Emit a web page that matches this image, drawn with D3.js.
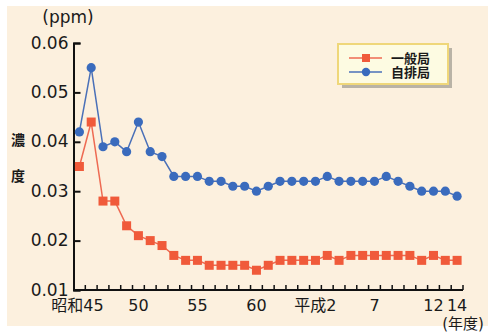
<!DOCTYPE html>
<html>
<head>
<meta charset="utf-8">
<script src="https://cdn.jsdelivr.net/npm/d3@7"></script>
<style>
  html, body { margin: 0; padding: 0; background: #ffffff; }
  svg { display: block; }
  text { font-family: "DejaVu Sans", "Noto Sans CJK JP", sans-serif; fill: #1a1a1a; }
</style>
</head>
<body>
<svg id="chart" width="488" height="334"></svg>
<script>
// Fiscal years: 昭和45 (1970) … 昭和63, 平成1 … 平成14
const years = [
  "S45","S46","S47","S48","S49","S50","S51","S52","S53","S54",
  "S55","S56","S57","S58","S59","S60","S61","S62","S63",
  "H1","H2","H3","H4","H5","H6","H7","H8","H9","H10","H11","H12","H13","H14"
];

// Annual mean concentration (ppm)
const ippan = [
  0.035,0.044,0.028,0.028,0.023,0.021,0.020,0.019,0.017,0.016,
  0.016,0.015,0.015,0.015,0.015,0.014,0.015,0.016,0.016,
  0.016,0.016,0.017,0.016,0.017,0.017,0.017,0.017,0.017,0.017,0.016,0.017,0.016,0.016
];
const jihai = [
  0.042,0.055,0.039,0.040,0.038,0.044,0.038,0.037,0.033,0.033,
  0.033,0.032,0.032,0.031,0.031,0.030,0.031,0.032,0.032,
  0.032,0.032,0.033,0.032,0.032,0.032,0.032,0.033,0.032,0.031,0.030,0.030,0.030,0.029
];

const yTicks = [0.01, 0.02, 0.03, 0.04, 0.05, 0.06];
const xTickLabels = { "S45": "昭和45", "S50": "50", "S55": "55", "S60": "60",
                      "H2": "平成2", "H7": "7", "H12": "12", "H14": "14" };

const seriesNames = ["一般局", "自排局"];
const colors = { line: ["#ee6a52", "#4a70b8"], mark: ["#f05a3a", "#3a6bbd"] };

const svg = d3.select("#chart");

// cream panel
svg.append("rect").attr("x", 7).attr("y", 6).attr("width", 481).attr("height", 320)
  .attr("fill", "#fcf0de");

const x = d3.scaleBand().domain(years).range([73.5, 463]);
const y = d3.scaleLinear().domain([0.01, 0.06]).range([290, 43]);

const g = svg.append("g");

// y axis: inward ticks, labels on the left
const yAxis = d3.axisLeft(y).tickValues(yTicks).tickSize(-7).tickPadding(14)
  .tickFormat(d3.format(".2f"));
const yg = g.append("g").attr("transform", "translate(73.5,0)").call(yAxis);
yg.select(".domain").attr("stroke", "#111").attr("stroke-width", 2);
yg.selectAll(".tick line").attr("stroke", "#111").attr("stroke-width", 2)
  .attr("x1", 0).attr("x2", 7);
yg.selectAll(".tick text").attr("font-size", 17).attr("fill", "#1a1a1a")
  .attr("x", -5).attr("dy", "0.3em");

// x axis: small upward ticks at band edges
const xg = g.append("g").attr("transform", "translate(0,290)");
xg.append("line").attr("x1", 73.5).attr("x2", 463).attr("stroke", "#111").attr("stroke-width", 2);
xg.selectAll("line.tk").data(years).join("line").attr("class", "tk")
  .attr("x1", d => x(d) + x.bandwidth()).attr("x2", d => x(d) + x.bandwidth())
  .attr("y1", 0).attr("y2", -5).attr("stroke", "#111").attr("stroke-width", 1.5);
xg.selectAll("text").data(years.filter(d => xTickLabels[d])).join("text")
  .attr("x", d => x(d) + x.bandwidth() / 2 - (d === "S45" ? 2 : 0))
  .attr("y", 21).attr("text-anchor", "middle").attr("font-size", 16)
  .text(d => xTickLabels[d]);

// axis titles
svg.append("text").attr("x", 68).attr("y", 23).attr("text-anchor", "middle")
  .attr("font-size", 17).text("(ppm)");
svg.append("text").attr("x", 18).attr("y", 145).attr("text-anchor", "middle")
  .attr("font-size", 14).attr("font-weight", "bold").text("濃");
svg.append("text").attr("x", 18).attr("y", 181).attr("text-anchor", "middle")
  .attr("font-size", 14).attr("font-weight", "bold").text("度");
svg.append("text").attr("x", 463).attr("y", 329).attr("text-anchor", "middle")
  .attr("font-size", 15).text("(年度)");

// series
const cx = d => x(d) + x.bandwidth() / 2;
const data = [ippan, jihai];
data.forEach((vals, s) => {
  const pts = years.map((yr, i) => [cx(yr), y(vals[i])]);
  g.append("path").attr("d", d3.line()(pts)).attr("fill", "none")
    .attr("stroke", colors.line[s]).attr("stroke-width", 1.5);
  if (s === 0) {
    g.selectAll("rect.m0").data(pts).join("rect").attr("class", "m0")
      .attr("x", p => p[0] - 4.5).attr("y", p => p[1] - 4.5)
      .attr("width", 9).attr("height", 9).attr("fill", colors.mark[0]);
  } else {
    g.selectAll("circle.m1").data(pts).join("circle").attr("class", "m1")
      .attr("cx", p => p[0]).attr("cy", p => p[1]).attr("r", 4.6)
      .attr("fill", colors.mark[1]);
  }
});

// legend
const lg = svg.append("g").attr("transform", "translate(338,44)");
lg.append("rect").attr("x", 4).attr("y", 4).attr("width", 110).attr("height", 40)
  .attr("fill", "#b9b3a6");
lg.append("rect").attr("x", 0).attr("y", 0).attr("width", 110).attr("height", 40)
  .attr("fill", "#fdfbe2").attr("stroke", "#efd77a").attr("stroke-width", 2);
seriesNames.forEach((name, s) => {
  const ly = 14 + s * 14;
  lg.append("line").attr("x1", 11).attr("x2", 44).attr("y1", ly).attr("y2", ly)
    .attr("stroke", colors.line[s]).attr("stroke-width", 1.5);
  if (s === 0) {
    lg.append("rect").attr("x", 24).attr("y", ly - 4).attr("width", 8).attr("height", 8)
      .attr("fill", colors.mark[0]);
  } else {
    lg.append("circle").attr("cx", 28).attr("cy", ly).attr("r", 4.2).attr("fill", colors.mark[1]);
  }
  lg.append("text").attr("x", 53).attr("y", ly).attr("dy", "0.36em")
    .attr("font-size", 13).attr("font-weight", "bold").text(name);
});
</script>
</body>
</html>
